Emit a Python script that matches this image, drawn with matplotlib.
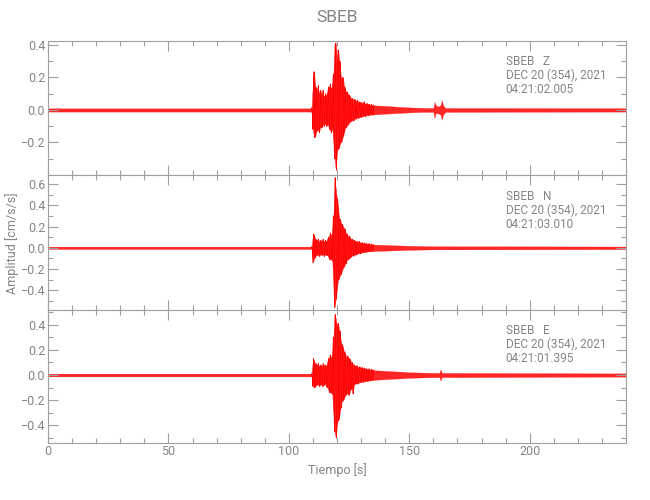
import matplotlib
matplotlib.use("Agg")
import matplotlib.pyplot as plt
from matplotlib.ticker import MultipleLocator, FixedLocator

plt.rcParams['font.family'] = ['Roboto', 'DejaVu Sans']

station = "SBEB"
components = ["Z", "N", "E"]
date_text = "DEC 20 (354), 2021"
start_times = ["04:21:02.005", "04:21:03.010", "04:21:01.395"]
xlabel = "Tiempo [s]"
ylabel = "Amplitud [cm/s/s]"
x_ticks = [0, 50, 100, 150, 200]
y_ticks = [[-0.2, 0.0, 0.2, 0.4],
           [-0.4, -0.2, 0.0, 0.2, 0.4, 0.6],
           [-0.4, -0.2, 0.0, 0.2, 0.4]]
y_limits = [(-0.40, 0.426), (-0.585, 0.685), (-0.537, 0.516)]

# event window, read at 0.5 s steps (peak envelope of the trace)
t_event = [109.5, 110, 110.5, 111, 111.5, 112, 112.5, 113, 113.5, 114, 114.5,
           115, 115.5, 116, 116.5, 117, 117.5, 118, 118.5, 119, 119.5, 120,
           120.5, 121, 121.5, 122, 122.5, 123, 123.5, 124, 124.5, 125, 125.5, 126,
           126.5, 127, 127.5, 128, 128.5, 129, 129.5, 130, 130.5, 131, 131.5,
           132, 132.5, 133, 133.5, 134, 134.5, 135]

z_up = [.015, .18, .235, .14, .12, .15, .10, .12, .09, .12, .08, .10, .09, .11,
        .14, .16, .13, .15, .22, .40, .41, .28, .37, .30, .22, .18, .20, .14,
        .12, .11, .10, .09, .08, .07,
        .07, .06, .065, .05, .06, .045, .05, .045, .04, .05, .04, .035, .04,
        .035, .03, .035, .03, .03]
z_lo = [-.015, -.12, -.17, -.16, -.13, -.12, -.14, -.10, -.11, -.09, -.10, -.08,
        -.10, -.09, -.10, -.12, -.14, -.11, -.18, -.30, -.37, -.25, -.24, -.22,
        -.20, -.19, -.16, -.13, -.11, -.10, -.09, -.08, -.07, -.07,
        -.06, -.065, -.05, -.055, -.045, -.05, -.04, -.045, -.04, -.035, -.04,
        -.035, -.03, -.035, -.03, -.028, -.03, -.028]
n_up = [.015, .13, .12, .08, .07, .08, .06, .07, .06, .08, .06, .07, .06, .08,
        .10, .14, .12, .14, .30, .66, .55, .46, .36, .27, .25, .22, .20, .18,
        .15, .13, .11, .11, .09, .08,
        .08, .07, .065, .06, .055, .06, .05, .045, .05, .04, .045, .04, .035,
        .04, .035, .03, .035, .03]
n_lo = [-.015, -.14, -.10, -.08, -.07, -.06, -.08, -.06, -.07, -.06, -.08, -.06,
        -.07, -.07, -.09, -.11, -.10, -.12, -.30, -.56, -.48, -.37, -.30, -.27,
        -.25, -.22, -.19, -.17, -.15, -.12, -.11, -.10, -.09, -.08,
        -.07, -.075, -.06, -.065, -.055, -.05, -.055, -.045, -.045, -.04, -.04,
        -.04, -.035, -.035, -.03, -.035, -.03, -.03]
e_up = [.015, .13, .11, .09, .08, .09, .07, .08, .07, .09, .08, .08, .07, .10,
        .13, .16, .14, .16, .30, .48, .45, .38, .41, .35, .28, .24, .22, .18,
        .16, .14, .15, .13, .12, .10,
        .09, .08, .07, .075, .065, .06, .065, .055, .06, .05, .055, .05, .045,
        .05, .045, .04, .045, .04]
e_lo = [-.015, -.09, -.10, -.09, -.08, -.07, -.09, -.08, -.07, -.09, -.08, -.07,
        -.09, -.10, -.12, -.14, -.13, -.15, -.28, -.45, -.50, -.38, -.36, -.32,
        -.26, -.21, -.20, -.18, -.16, -.15, -.14, -.16, -.12, -.10,
        -.15, -.08, -.07, -.065, -.07, -.06, -.055, -.06, -.05, -.055, -.05,
        -.045, -.05, -.045, -.04, -.045, -.04, -.04]

# quiet parts of the trace (before and after the event)
z_pre_t = [0, 109]
z_pre_up = [.010, .010]
z_pre_lo = [-.010, -.010]
z_post_t = [136, 140, 145, 150, 155, 160, 160.5, 161, 162, 163, 163.5, 164,
            165, 240]
z_post_up = [.028, .025, .02, .016, .013, .012, .05, .03, .02, .03, .06, .03,
             .012, .011]
z_post_lo = [-.027, -.023, -.019, -.015, -.012, -.012, -.05, -.02, -.02, -.03,
             -.06, -.03, -.012, -.010]

n_pre_t = [0, 109]
n_pre_up = [.011, .011]
n_pre_lo = [-.011, -.011]
n_post_t = [136, 140, 145, 150, 160, 240]
n_post_up = [.03, .027, .023, .019, .015, .012]
n_post_lo = [-.03, -.027, -.023, -.019, -.015, -.012]

e_pre_t = [0, 109]
e_pre_up = [.011, .011]
e_pre_lo = [-.011, -.011]
e_post_t = [136, 140, 145, 150, 160, 162.5, 163, 163.5, 240]
e_post_up = [.038, .033, .028, .022, .017, .017, .045, .017, .013]
e_post_lo = [-.038, -.033, -.028, -.022, -.017, -.017, -.045, -.017, -.013]

traces = [
    (z_pre_t, z_pre_up, z_pre_lo, z_up, z_lo, z_post_t, z_post_up, z_post_lo),
    (n_pre_t, n_pre_up, n_pre_lo, n_up, n_lo, n_post_t, n_post_up, n_post_lo),
    (e_pre_t, e_pre_up, e_pre_lo, e_up, e_lo, e_post_t, e_post_up, e_post_lo),
]

gray_axis = '#a0a0a0'
gray_text = '#858585'
red = '#ff0000'

fig = plt.figure(figsize=(6.5, 5.0), dpi=100)
left, right = 48 / 650, 626 / 650
edges = [40.7, 175, 310, 442.7]

for i in range(3):
    top = 1 - edges[i] / 500
    bot = 1 - edges[i + 1] / 500
    ax = fig.add_axes([left, bot, right - left, top - bot])
    pre_t, pre_up, pre_lo, ev_up, ev_lo, post_t, post_up, post_lo = traces[i]
    t_all = list(pre_t) + list(t_event) + list(post_t)
    up_all = list(pre_up) + list(ev_up) + list(post_up)
    lo_all = list(pre_lo) + list(ev_lo) + list(post_lo)
    ax.fill_between(t_all, lo_all, up_all, color=red, alpha=0.85, lw=0.2,
                    edgecolor=red)
    # zig-zag through the envelope values to mimic the oscillation
    zx, zy = [], []
    for k, tt in enumerate(t_event):
        zx.append(tt)
        zy.append(ev_up[k] if k % 2 == 0 else ev_lo[k])
        zx.append(tt + 0.25)
        zy.append(ev_lo[k] if k % 2 == 0 else ev_up[k])
    ax.plot(zx, zy, color=red, lw=0.6)

    ax.set_xlim(0, 240)
    ax.set_ylim(*y_limits[i])
    ax.xaxis.set_major_locator(FixedLocator(x_ticks))
    ax.xaxis.set_minor_locator(MultipleLocator(10))
    ax.yaxis.set_major_locator(FixedLocator(y_ticks[i]))
    ax.yaxis.set_minor_locator(MultipleLocator(0.1))
    ax.tick_params(which='both', direction='in', top=True, right=True,
                   colors=gray_axis, labelcolor=gray_text, labelsize=9, pad=2)
    ax.tick_params(which='major', length=7.2, width=0.8)
    ax.tick_params(which='minor', length=3.6, width=0.8)
    ax.set_yticklabels([f"{v:.1f}".replace('-', '\u2212') for v in y_ticks[i]])
    for sp in ax.spines.values():
        sp.set_color(gray_axis)
        sp.set_linewidth(0.8)
    if i < 2:
        ax.set_xticklabels([])
    else:
        ax.set_xticklabels([str(v) for v in x_ticks])
        ax.set_xlabel(xlabel, color=gray_text, fontsize=9, labelpad=3)
    ax.text(0.792, 1 - 21 / 134, f"{station}   {components[i]}",
            transform=ax.transAxes, color=gray_text, fontsize=8.5, va='center')
    ax.text(0.792, 1 - 35 / 134, date_text,
            transform=ax.transAxes, color=gray_text, fontsize=8.5, va='center')
    ax.text(0.792, 1 - 49 / 134, start_times[i],
            transform=ax.transAxes, color=gray_text, fontsize=8.5, va='center')

fig.text(337 / 650, 1 - 17 / 500, station, ha='center', va='center',
         color=gray_text, fontsize=12.5)
fig.text(12 / 650, 1 - 243 / 500, ylabel, ha='center', va='center',
         rotation=90, color=gray_text, fontsize=9)

fig.savefig("out.png", dpi=100)
